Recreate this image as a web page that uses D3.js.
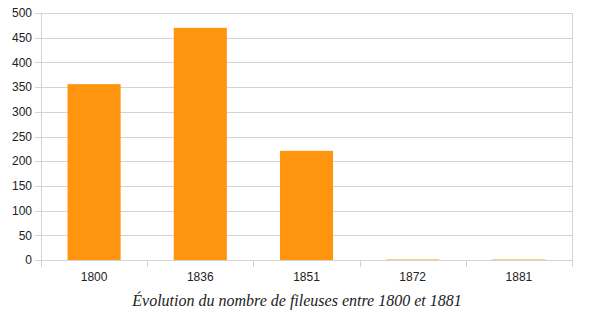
<!DOCTYPE html>
<html>
<head>
<meta charset="utf-8">
<script src="https://cdn.jsdelivr.net/npm/d3@7"></script>
<style>
  body { margin: 0; background: #fff; }
  svg { display: block; }
</style>
</head>
<body>
<div id="chart"></div>
<script>
const years = ["1800", "1836", "1851", "1872", "1881"];
const fileuses = [356, 470, 221, 1, 1];
const yTicks = [0, 50, 100, 150, 200, 250, 300, 350, 400, 450, 500];
const caption = "Évolution du nombre de fileuses entre 1800 et 1881";

const W = 597, H = 321;
const margin = {top: 13, right: 25, bottom: 61, left: 41};
const width = W - margin.left - margin.right,
      height = H - margin.top - margin.bottom;

const svg = d3.select("#chart").append("svg")
    .attr("width", W).attr("height", H);

const g = svg.append("g")
    .attr("transform", `translate(${margin.left},${margin.top})`);

const x = d3.scaleBand().domain(years).range([0, width])
    .paddingInner(0.5).paddingOuter(0.25);
const y = d3.scaleLinear().domain([0, 500]).range([height, 0]);

const gridColor = "#d4d4d4";

// horizontal grid + left ticks
g.append("g").selectAll("line")
    .data(yTicks).enter().append("line")
    .attr("x1", -6).attr("x2", width)
    .attr("y1", d => Math.round(y(d)) + 0.5).attr("y2", d => Math.round(y(d)) + 0.5)
    .attr("stroke", gridColor);

// frame sides
g.append("line").attr("x1", 0.5).attr("x2", 0.5).attr("y1", 0).attr("y2", height)
    .attr("stroke", gridColor);
g.append("line").attr("x1", width + 0.5).attr("x2", width + 0.5).attr("y1", 0).attr("y2", height)
    .attr("stroke", gridColor);

// category boundary ticks under the axis
const step = x.step();
g.append("g").selectAll("line")
    .data(d3.range(years.length + 1)).enter().append("line")
    .attr("x1", i => Math.round(i * width / years.length) + 0.5)
    .attr("x2", i => Math.round(i * width / years.length) + 0.5)
    .attr("y1", height).attr("y2", height + 7)
    .attr("stroke", gridColor);

// y labels
g.append("g").selectAll("text")
    .data(yTicks).enter().append("text")
    .attr("x", -9).attr("y", d => y(d))
    .attr("dy", "0.35em")
    .attr("text-anchor", "end")
    .style("font-family", "'Liberation Sans', Arial, sans-serif")
    .style("font-size", "12px")
    .attr("fill", "#222")
    .text(d => d);

// bars
g.append("g").selectAll("rect")
    .data(years).enter().append("rect")
    .attr("x", d => x(d))
    .attr("width", x.bandwidth())
    .attr("y", (d, i) => y(fileuses[i]))
    .attr("height", (d, i) => height - y(fileuses[i]))
    .attr("fill", "#ff950e");

// x labels
g.append("g").selectAll("text")
    .data(years).enter().append("text")
    .attr("x", d => x(d) + x.bandwidth() / 2)
    .attr("y", height + 21)
    .attr("text-anchor", "middle")
    .style("font-family", "'Liberation Sans', Arial, sans-serif")
    .style("font-size", "12px")
    .attr("fill", "#222")
    .text(d => d);

// caption
svg.append("text")
    .attr("x", 297).attr("y", 306)
    .attr("text-anchor", "middle")
    .style("font-family", "'Liberation Serif', 'Times New Roman', serif")
    .style("font-style", "italic")
    .style("font-size", "16px")
    .attr("fill", "#222")
    .text(caption);
</script>
</body>
</html>
